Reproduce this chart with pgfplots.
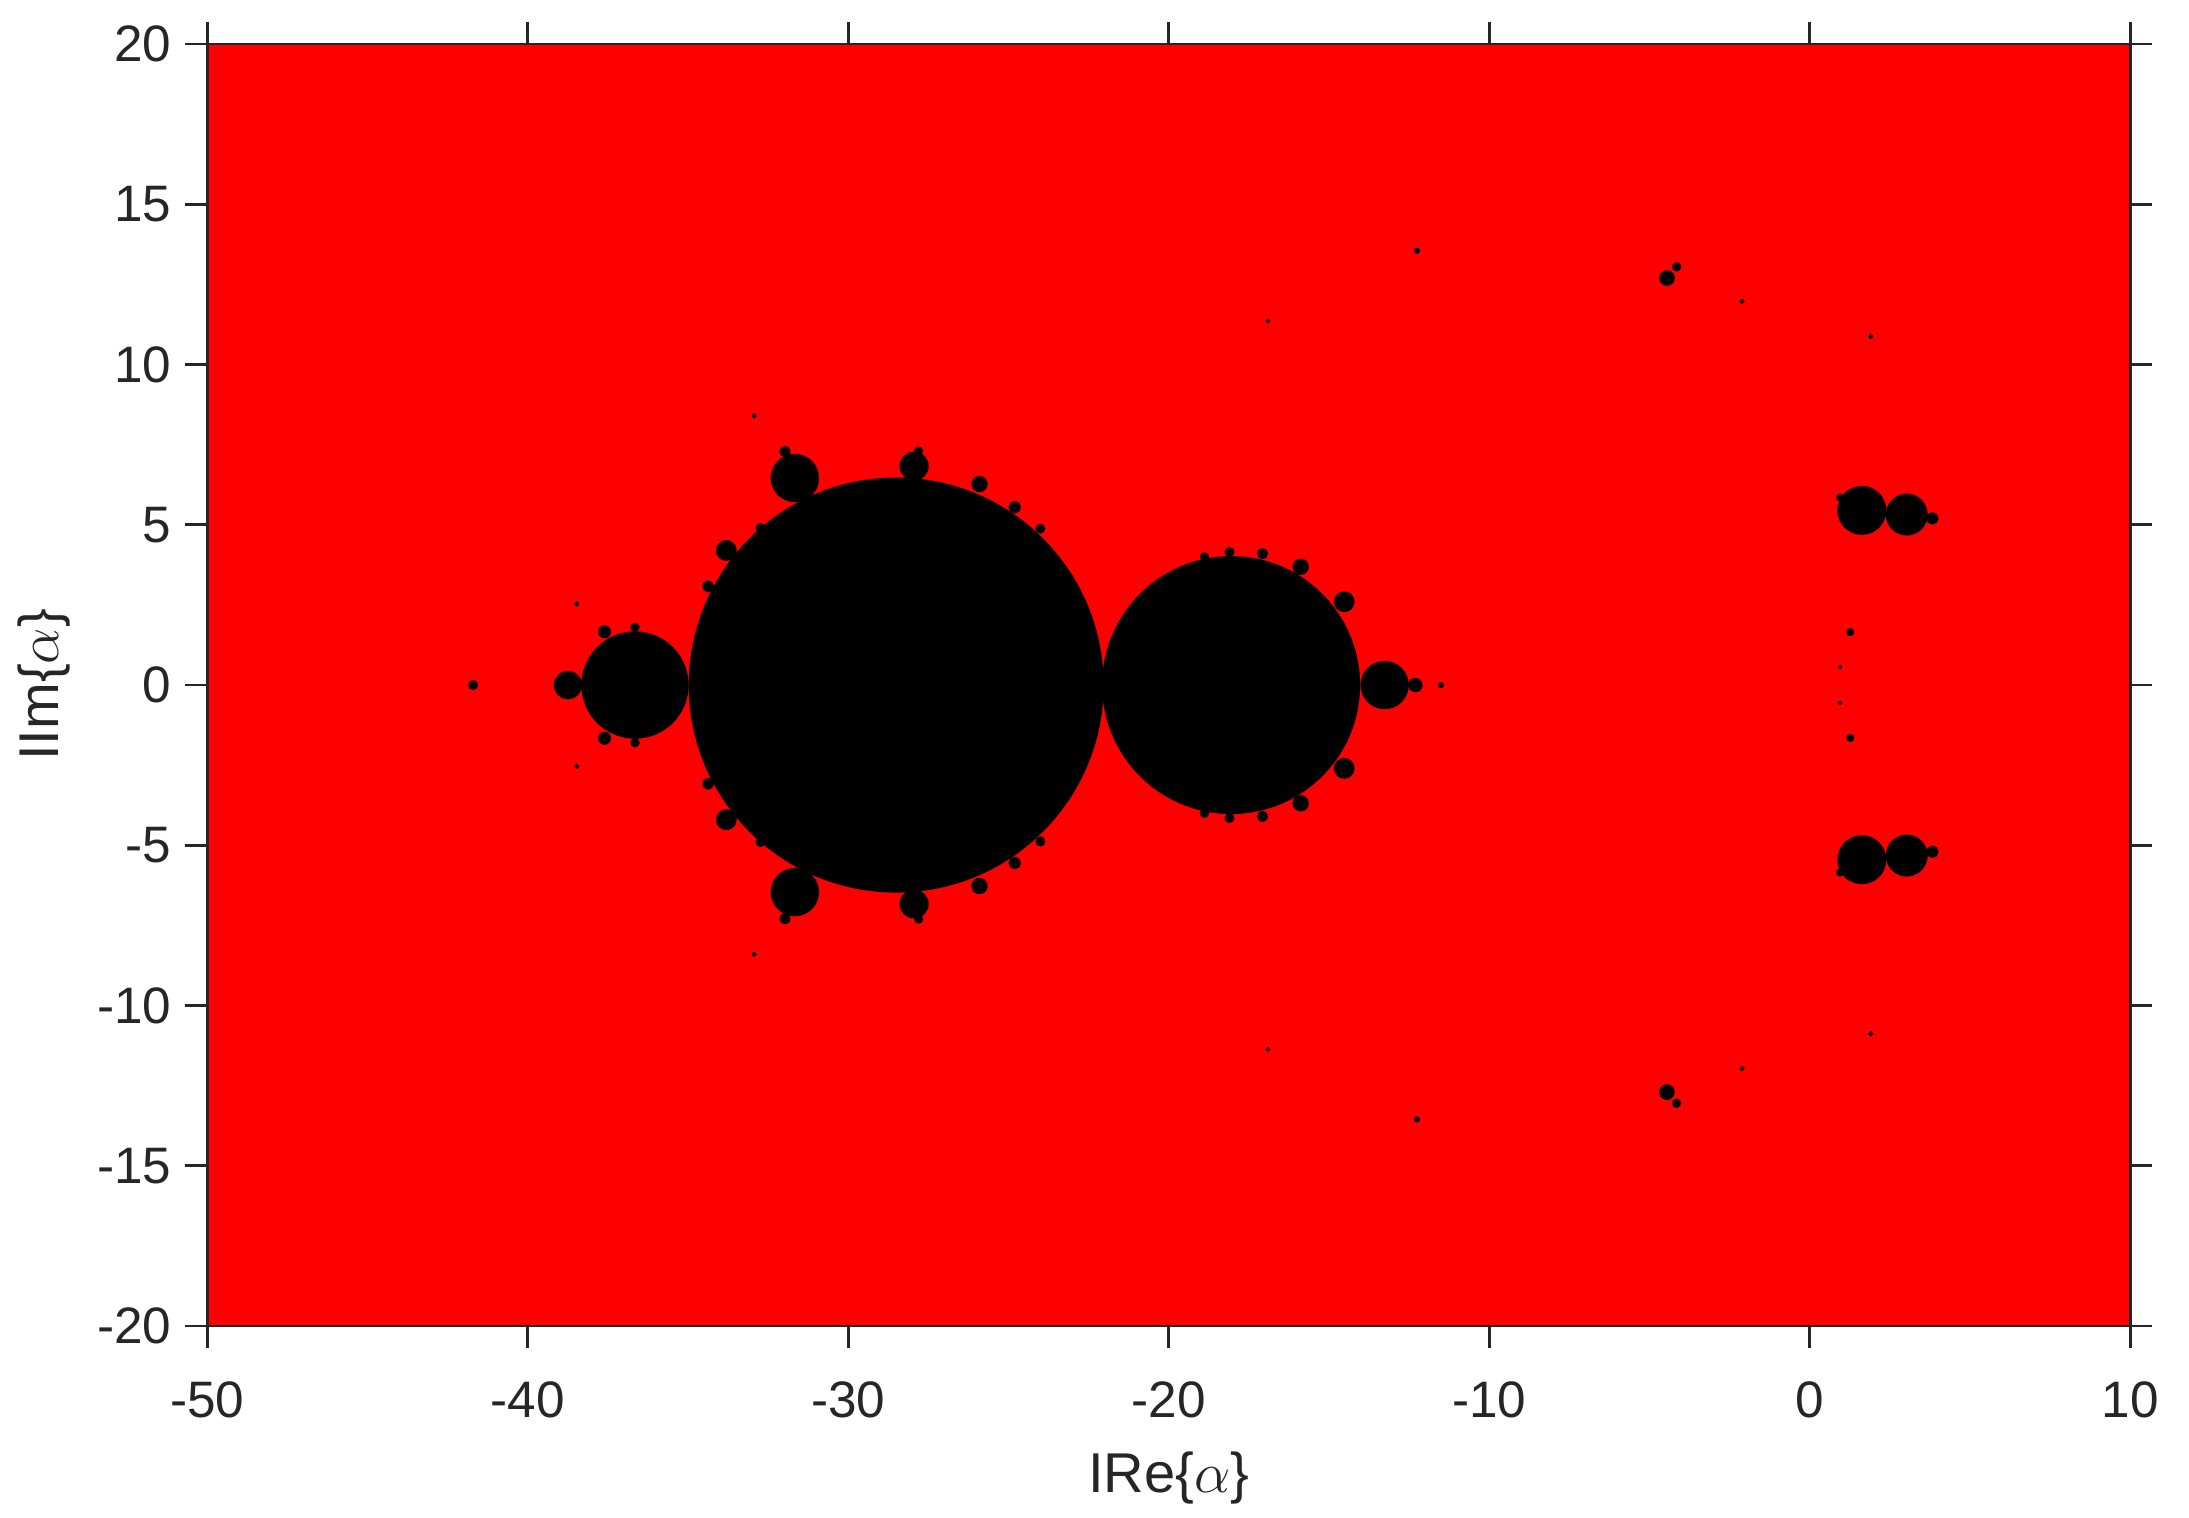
\documentclass[border=0pt]{standalone}
\usepackage{pgfplots}
\pgfplotsset{compat=1.18}
\usepackage{fontspec}
\setmainfont{Liberation Sans}
\usetikzlibrary{calc}
\definecolor{axgray}{HTML}{262626}

% x y r (radius in axis units)
\pgfplotstableread{
x y r
-28.5 0 6.45
-18.05 0 4.0
-36.65 0 1.65
-38.74 0 0.42
-41.7 0 0.13
-13.26 0 0.73
-12.3 0 0.2
-11.5 0 0.07
-31.66 6.46 0.73
-31.97 7.29 0.15
-27.94 6.83 0.43
-27.8 7.3 0.12
-25.9 6.27 0.23
-24.8 5.55 0.17
-24.0 4.88 0.13
-33.8 4.2 0.3
-34.37 3.08 0.16
-32.73 4.9 0.13
-37.6 1.66 0.18
-36.65 1.8 0.12
-15.88 3.69 0.23
-14.52 2.6 0.3
-18.1 4.15 0.13
-17.07 4.1 0.15
-18.88 4.0 0.12
1.63 5.45 0.74
3.03 5.32 0.63
3.83 5.2 0.17
0.95 5.85 0.1
-4.45 12.7 0.22
-4.15 13.05 0.12
-2.11 11.97 0.05
1.91 10.88 0.05
-12.25 13.55 0.07
-16.9 11.37 0.04
1.27 1.65 0.1
0.95 0.56 0.04
-32.93 8.4 0.05
-38.47 2.53 0.05
-31.66 -6.46 0.73
-31.97 -7.29 0.15
-27.94 -6.83 0.43
-27.8 -7.3 0.12
-25.9 -6.27 0.23
-24.8 -5.55 0.17
-24.0 -4.88 0.13
-33.8 -4.2 0.3
-34.37 -3.08 0.16
-32.73 -4.9 0.13
-37.6 -1.66 0.18
-36.65 -1.8 0.12
-15.88 -3.69 0.23
-14.52 -2.6 0.3
-18.1 -4.15 0.13
-17.07 -4.1 0.15
-18.88 -4.0 0.12
1.63 -5.45 0.74
3.03 -5.32 0.63
3.83 -5.2 0.17
0.95 -5.85 0.1
-4.45 -12.7 0.22
-4.15 -13.05 0.12
-2.11 -11.97 0.05
1.91 -10.88 0.05
-12.25 -13.55 0.07
-16.9 -11.37 0.04
1.27 -1.65 0.1
0.95 -0.56 0.04
-32.93 -8.4 0.05
-38.47 -2.53 0.05
}\blobs

\begin{document}
\begin{tikzpicture}
\begin{axis}[
    name=ax,
    x=8pt, y=8pt,
    xmin=-50, xmax=10,
    ymin=-20, ymax=20,
    xtick={-50,-40,...,10},
    ytick={-20,-15,...,20},
    tick align=outside,
    major tick length=5.4pt,
    axis line style={axgray, line width=0.7pt},
    every tick/.style={axgray, line width=0.7pt},
    tick label style={font=\fontsize{12.8}{15}\selectfont, text=axgray},
    xticklabel style={yshift=-5pt},
    label style={font=\fontsize{14}{16}\selectfont, text=axgray},
    /pgf/number format/assume math mode=true,
    axis background/.style={fill=red},
    xlabel={IRe\{$\alpha$\}},
    ylabel={IIm\{$\alpha$\}},
    xlabel style={yshift=-1.5pt},
    ylabel style={yshift=0pt},
]
\addplot[
    scatter, only marks, mark=*,
    scatter/use mapped color={draw=black, fill=black},
    visualization depends on={8*\thisrow{r} \as \rad},
    scatter/@pre marker code/.append style={/tikz/mark size=\rad},
    ] table[x=x, y=y] {\blobs};
\end{axis}
\pgfresetboundingbox
\useasboundingbox ($(ax.south west)+(-51.7pt,-47.7pt)$) rectangle ($(ax.north east)+(14.7pt,11pt)$);
\end{tikzpicture}
\end{document}
